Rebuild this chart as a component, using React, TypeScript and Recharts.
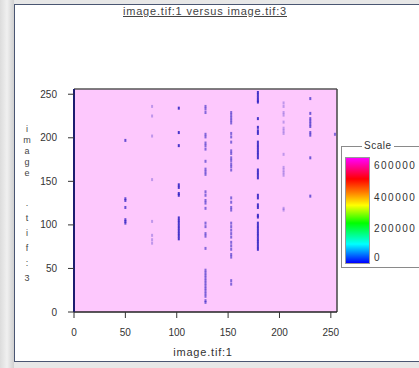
import React from "react";
import {
  CartesianGrid,
  ReferenceLine,
  Scatter,
  ScatterChart,
  XAxis,
  YAxis,
} from "recharts";

// pixel columns of image.tif:1 and the image.tif:3 values found in them
const columnX = [50, 76, 102, 128, 153, 179, 204, 230, 254];
const columnShade = [0.75, 0.3, 0.9, 0.6, 0.6, 0.9, 0.3, 0.7, 0.6];

const col50 = [197, 130, 128, 120, 106, 104, 102];
const col76 = [236, 225, 202, 152, 104, 88, 83, 79];
const col102 = [234, 206, 191, 146, 143, 136, 134, 108, 105, 102, 99, 96, 93, 90, 87, 84];
const col128 = [
  236, 233, 229, 204, 201, 194, 191, 187, 173, 164, 161, 158, 138, 134, 128, 125, 119,
  102, 98, 90, 87, 73, 48, 45, 42, 39, 36, 33, 30, 27, 24, 21, 18, 13, 11,
];
const col153 = [
  229, 226, 223, 220, 217, 205, 201, 195, 185, 182, 177, 174, 170, 167, 163, 131, 126,
  120, 117, 102, 98, 94, 90, 86, 80, 76, 72, 66, 63, 36, 32,
];
const col179 = [
  252, 249, 246, 243, 241, 222, 212, 208, 205, 195, 192, 189, 186, 183, 180, 177, 163,
  160, 157, 154, 134, 131, 123, 120, 111, 109, 102, 99, 96, 93, 90, 87, 84, 81, 78, 75, 72,
];
const col204 = [240, 236, 229, 226, 218, 211, 208, 205, 181, 166, 163, 160, 157, 119, 117];
const col230 = [245, 228, 222, 219, 216, 213, 206, 203, 177, 133];
const col254 = [204];

const columnY = [col50, col76, col102, col128, col153, col179, col204, col230, col254];

const axisTicks = [0, 50, 100, 150, 200, 250];
const scaleLabels = ["600000", "400000", "200000", "0"];
const yLabelTop = ["i", "m", "a", "g", "e"];
const yLabelBottom = [".", "t", "i", "f", ":", "3"];

const points = columnX.flatMap((x, i) =>
  columnY[i].map((y) => ({ x, y, shade: columnShade[i] }))
);

const font = '"Liberation Sans", Arial, sans-serif';

const Pixel = (props: any) => {
  const { cx, cy, payload } = props;
  if (cx == null || cy == null) return null;
  return (
    <rect
      x={cx - 1}
      y={cy - 1.5}
      width={2}
      height={3}
      fill="#3326c4"
      fillOpacity={payload.shade}
    />
  );
};

export default function App() {
  return (
    <div
      style={{
        position: "fixed",
        left: 0,
        top: 0,
        width: 419,
        height: 368,
        background: "#e7e7e7",
        fontFamily: font,
        overflow: "hidden",
      }}
    >
      <div
        style={{
          position: "absolute",
          left: 0,
          top: 0,
          width: 14,
          height: 368,
          background: "linear-gradient(to right, #dcdcdc, #f0f0f0 50%, #d0d0d0)",
        }}
      />
      <div
        style={{
          position: "absolute",
          left: 14,
          top: 4,
          width: 420,
          height: 356,
          background: "#fff",
          border: "1.5px solid #4a5672",
        }}
      />

      <div style={{ position: "absolute", left: 0, top: 0 }}>
        <ScatterChart width={419} height={368} margin={{ top: 89, right: 82, bottom: 26, left: 34 }}>
          <CartesianGrid horizontal={false} vertical={false} fill="#fdc8fd" />
          <XAxis
            type="number"
            dataKey="x"
            domain={[0, 256]}
            ticks={axisTicks}
            height={30}
            tick={{ fill: "#333", fontSize: 10, fontFamily: font }}
            tickSize={6}
            tickMargin={11}
            axisLine={{ stroke: "#222", strokeWidth: 1.5 }}
            tickLine={{ stroke: "#333" }}
          />
          <YAxis
            type="number"
            dataKey="y"
            domain={[0, 256]}
            ticks={axisTicks}
            width={40}
            tick={{ fill: "#333", fontSize: 10, fontFamily: font }}
            tickSize={6}
            tickMargin={11}
            axisLine={{ stroke: "#1c1c70", strokeWidth: 2 }}
            tickLine={{ stroke: "#333" }}
          />
          <ReferenceLine y={256} stroke="#555" strokeWidth={1.5} />
          <ReferenceLine x={256} stroke="#444" strokeWidth={1.5} />
          <Scatter data={points} shape={Pixel} isAnimationActive={false} />
        </ScatterChart>
      </div>

      <div
        style={{
          position: "absolute",
          left: 0,
          width: 410,
          top: 5,
          textAlign: "center",
          fontSize: 11,
          letterSpacing: 0.8,
          color: "#444",
          textDecoration: "underline",
        }}
      >
        image.tif:1 versus image.tif:3
      </div>

      <div
        style={{
          position: "absolute",
          left: 0,
          width: 406,
          top: 346,
          textAlign: "center",
          fontSize: 11,
          letterSpacing: 0.8,
          color: "#333",
        }}
      >
        image.tif:1
      </div>

      <div style={{ position: "absolute", left: 22, width: 10, top: 124, textAlign: "center", fontSize: 9, color: "#444" }}>
        {yLabelTop.map((c, i) => (
          <div key={i} style={{ lineHeight: "11px" }}>{c}</div>
        ))}
      </div>
      <div style={{ position: "absolute", left: 22, width: 10, top: 196, textAlign: "center", fontSize: 9, color: "#444" }}>
        {yLabelBottom.map((c, i) => (
          <div key={i} style={{ lineHeight: "15px" }}>{c}</div>
        ))}
      </div>

      <div
        style={{
          position: "absolute",
          left: 341,
          top: 146,
          width: 78,
          height: 120,
          border: "1px solid #8a8a8a",
          borderRight: "none",
          background: "#fff",
        }}
      >
        <div
          style={{
            position: "absolute",
            left: 20,
            top: -7,
            padding: "0 2px",
            background: "#fff",
            fontSize: 10,
            letterSpacing: 0.5,
            color: "#333",
            lineHeight: "12px",
          }}
        >
          Scale
        </div>
        <div
          style={{
            position: "absolute",
            left: 3,
            top: 10,
            width: 25,
            height: 107,
            border: "1px solid #999",
            boxSizing: "border-box",
            background:
              "linear-gradient(to bottom, #ff00ff 0%, #ff0080 10%, #ff0000 20%, #ff8000 33%, #ffff00 45%, #00ff00 62%, #00ffff 82%, #0000ff 100%)",
          }}
        />
        {scaleLabels.map((label, i) => (
          <div
            key={label}
            style={{
              position: "absolute",
              left: 32,
              top: [13, 45, 76, 105][i],
              fontSize: 10,
              letterSpacing: 1.5,
              color: "#333",
              lineHeight: "12px",
            }}
          >
            {label}
          </div>
        ))}
      </div>
    </div>
  );
}
